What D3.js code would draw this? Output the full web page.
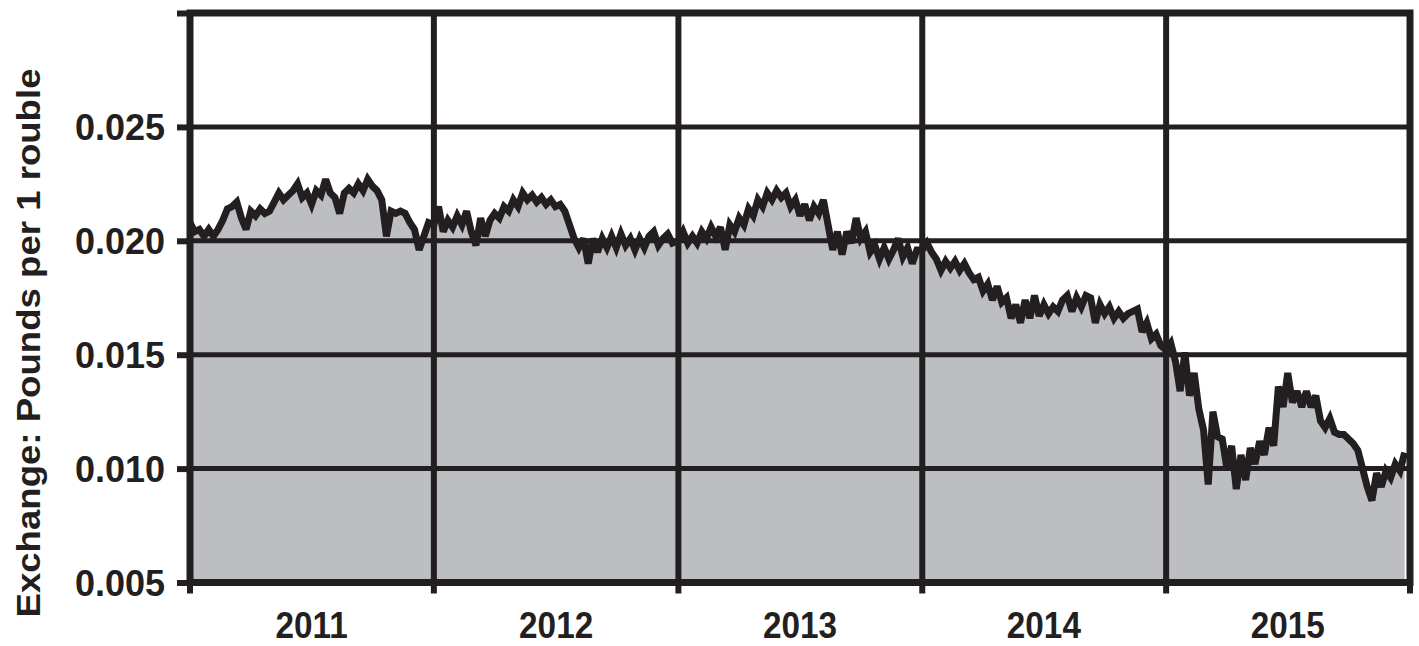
<!DOCTYPE html>
<html>
<head>
<meta charset="utf-8">
<script src="https://cdn.jsdelivr.net/npm/d3@7"></script>
<style>
  body { margin: 0; background: #fff; }
  text { font-family: "Liberation Sans", Arial, sans-serif; font-weight: bold; fill: #231f20; }
</style>
</head>
<body>
<div id="svganchor"></div>
<script>
// Rouble exchange rate, pounds per 1 rouble, roughly weekly readings

const years = [2011, 2012, 2013, 2014, 2015];
const yTicks = [0.005, 0.010, 0.015, 0.020, 0.025, 0.030];

const rate2011 = [0.0208, 0.0204, 0.0205, 0.0202, 0.0205, 0.0202, 0.0205, 0.0209, 0.0214, 0.0215,
  0.0217, 0.0210, 0.0205, 0.0213, 0.0211, 0.0214, 0.0212, 0.0213, 0.0217, 0.0221,
  0.0218, 0.0220, 0.0222, 0.0225, 0.0219, 0.0221, 0.0216, 0.0222, 0.0220, 0.0227,
  0.0221, 0.0219, 0.0212, 0.0221, 0.0223, 0.0221, 0.0225, 0.0222, 0.0227, 0.0224,
  0.0222, 0.0218, 0.0202, 0.0213, 0.0212, 0.0213, 0.0212, 0.0208, 0.0205, 0.0196,
  0.0202, 0.0208];
const rate2012 = [0.0207, 0.0215, 0.0204, 0.0209, 0.0206, 0.0211, 0.0207, 0.0213, 0.0204, 0.0198,
  0.0210, 0.0202, 0.0209, 0.0212, 0.0210, 0.0215, 0.0213, 0.0218, 0.0215, 0.0221,
  0.0218, 0.0220, 0.0217, 0.0219, 0.0216, 0.0218, 0.0215, 0.0216, 0.0213, 0.0207,
  0.0201, 0.0197, 0.0201, 0.0190, 0.0201, 0.0195, 0.0201, 0.0197, 0.0202, 0.0197,
  0.0203, 0.0198, 0.0201, 0.0196, 0.0201, 0.0197, 0.0202, 0.0204, 0.0198, 0.0201,
  0.0203, 0.0199];
const rate2013 = [0.0200, 0.0204, 0.0199, 0.0202, 0.0199, 0.0204, 0.0201, 0.0206, 0.0202, 0.0206,
  0.0196, 0.0207, 0.0204, 0.0210, 0.0207, 0.0214, 0.0211, 0.0218, 0.0215, 0.0221,
  0.0218, 0.0222, 0.0219, 0.0221, 0.0215, 0.0218, 0.0211, 0.0216, 0.0209, 0.0215,
  0.0212, 0.0218, 0.0207, 0.0196, 0.0204, 0.0194, 0.0204, 0.0199, 0.0210, 0.0201,
  0.0204, 0.0195, 0.0198, 0.0192, 0.0197, 0.0192, 0.0196, 0.0201, 0.0193, 0.0197,
  0.0190, 0.0196];
const rate2014 = [0.0196, 0.0199, 0.0195, 0.0192, 0.0187, 0.0191, 0.0188, 0.0191, 0.0187, 0.0190,
  0.0186, 0.0183, 0.0184, 0.0178, 0.0181, 0.0174, 0.0180, 0.0173, 0.0175, 0.0166,
  0.0172, 0.0164, 0.0174, 0.0166, 0.0176, 0.0167, 0.0172, 0.0168, 0.0171, 0.0169,
  0.0174, 0.0176, 0.0169, 0.0175, 0.0171, 0.0176, 0.0175, 0.0164, 0.0172, 0.0168,
  0.0171, 0.0166, 0.0169, 0.0166, 0.0168, 0.0169, 0.0170, 0.0160, 0.0164, 0.0157,
  0.0159, 0.0154];
const rate2015 = [0.0152, 0.0155, 0.0147, 0.0134, 0.0151, 0.0132, 0.0142, 0.0126, 0.0117, 0.0093,
  0.0125, 0.0114, 0.0113, 0.0100, 0.0110, 0.0091, 0.0106, 0.0095, 0.0109, 0.0102,
  0.0112, 0.0106, 0.0118, 0.0110, 0.0136, 0.0127, 0.0142, 0.0129, 0.0134, 0.0127,
  0.0134, 0.0127, 0.0132, 0.0121, 0.0118, 0.0122, 0.0116, 0.0115, 0.0115, 0.0113,
  0.0111, 0.0108, 0.0100, 0.0092, 0.0086, 0.0098, 0.0092, 0.0099, 0.0096, 0.0102,
  0.0099, 0.0107];

const rates = [rate2011, rate2012, rate2013, rate2014, rate2015];

let data = [];
years.forEach((yr, k) => {
    rates[k].forEach((v, i) => {
        data.push({date: new Date(yr, 0, 1 + 7 * i), value: v});
    });
});

let width = 1419;
let height = 646;
let ink = "#231f20";

let x = d3.scaleTime()
    .domain([new Date(2011, 0, 1), new Date(2016, 0, 1)])
    .range([190, 1410]);

let y = d3.scaleLinear()
    .domain([0.005, 0.030])
    .range([582.5, 13]);

let svg = d3.select("#svganchor")
    .append("svg")
    .attr("width", width)
    .attr("height", height);

// grey area under the rate
let area = d3.area()
    .x(d => x(d.date))
    .y0(y(0.005))
    .y1(d => y(d.value));

svg.append("path")
    .datum(data)
    .attr("d", area)
    .attr("fill", "#bdbec2");

// grid
let yearStarts = years.map(yr => new Date(yr, 0, 1)).concat([new Date(2016, 0, 1)]);

svg.selectAll(".hgrid")
    .data(yTicks.slice(1, -1))
    .enter()
    .append("line")
    .attr("x1", x.range()[0])
    .attr("x2", x.range()[1])
    .attr("y1", d => y(d))
    .attr("y2", d => y(d))
    .attr("stroke", ink)
    .attr("stroke-width", 5);

svg.selectAll(".vgrid")
    .data(yearStarts.slice(1, -1))
    .enter()
    .append("line")
    .attr("x1", d => x(d))
    .attr("x2", d => x(d))
    .attr("y1", y(0.030))
    .attr("y2", y(0.005))
    .attr("stroke", ink)
    .attr("stroke-width", 6);

// the rate line
let line = d3.line()
    .x(d => x(d.date))
    .y(d => y(d.value));

svg.append("path")
    .datum(data)
    .attr("d", line)
    .attr("fill", "none")
    .attr("stroke", ink)
    .attr("stroke-width", 7)
    .attr("stroke-linejoin", "miter")
    .attr("stroke-miterlimit", 3);

// frame
svg.append("rect")
    .attr("x", x.range()[0])
    .attr("y", y(0.030))
    .attr("width", x.range()[1] - x.range()[0])
    .attr("height", y(0.005) - y(0.030))
    .attr("fill", "none")
    .attr("stroke", ink)
    .attr("stroke-width", 7);

// y axis ticks and labels
let yAxis = d3.axisLeft(y)
    .tickValues(yTicks)
    .tickSize(13)
    .tickFormat(d3.format(".3f"));

let gy = svg.append("g")
    .attr("transform", "translate(" + x.range()[0] + ",0)")
    .call(yAxis);
gy.select(".domain").remove();
gy.selectAll(".tick line").attr("stroke", ink).attr("stroke-width", 6);
gy.selectAll(".tick text")
    .attr("x", -25)
    .attr("dy", "0.36em")
    .style("font-size", "36px");
gy.selectAll(".tick").filter(d => d === 0.030).select("text").remove();

// x axis: ticks at year boundaries, labels mid-year
let gx = svg.append("g")
    .attr("transform", "translate(0," + y(0.005) + ")");
gx.selectAll(".xtick")
    .data(yearStarts)
    .enter()
    .append("line")
    .attr("x1", d => x(d))
    .attr("x2", d => x(d))
    .attr("y1", 0)
    .attr("y2", 11)
    .attr("stroke", ink)
    .attr("stroke-width", 6);
gx.selectAll(".xlabel")
    .data(years)
    .enter()
    .append("text")
    .attr("transform", d => "translate(" + x(new Date(d, 6, 2)) + ",55) scale(0.9,1)")
    .attr("text-anchor", "middle")
    .style("font-size", "37px")
    .text(d => d);

// y axis title
svg.append("text")
    .attr("transform", "translate(40,343) rotate(-90)")
    .attr("text-anchor", "middle")
    .attr("textLength", 549)
    .attr("lengthAdjust", "spacingAndGlyphs")
    .style("font-size", "33px")
    .text("Exchange: Pounds per 1 rouble");
</script>
</body>
</html>
